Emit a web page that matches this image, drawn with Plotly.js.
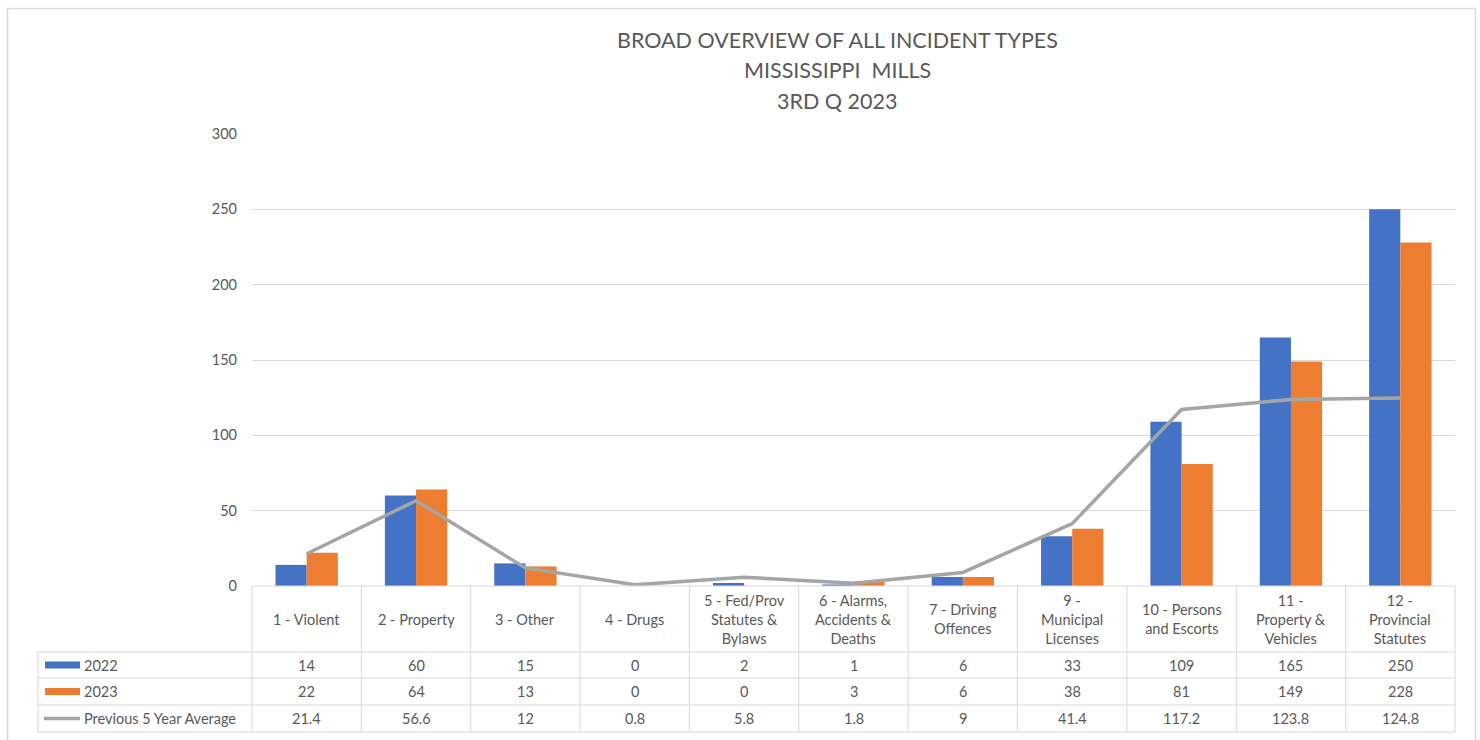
<!DOCTYPE html>
<html>
<head>
<meta charset="utf-8">
<script src="https://cdn.plot.ly/plotly-3.0.1.min.js"></script>
<style>html,body{margin:0;padding:0;background:#fff;}#chart{width:1480px;height:740px;}</style>
</head>
<body>
<div id="chart"></div>
<script>
const categories = ["1 - Violent","2 - Property","3 - Other","4 - Drugs","5 - Fed/Prov<br>Statutes &<br>Bylaws","6 - Alarms,<br>Accidents &<br>Deaths","7 - Driving<br>Offences","9 -<br>Municipal<br>Licenses","10 - Persons<br>and Escorts","11 -<br>Property &<br>Vehicles","12 -<br>Provincial<br>Statutes"];
const values2022 = [14,60,15,0,2,1,6,33,109,165,250];
const values2023 = [22,64,13,0,0,3,6,38,81,149,228];
const avg5yr = [21.4,56.6,12,0.8,5.8,1.8,9,41.4,117.2,123.8,124.8];
const seriesNames = ["2022","2023","Previous 5 Year Average"];
const yTicks = [0,50,100,150,200,250,300];
const titleLines = ["BROAD OVERVIEW OF ALL INCIDENT TYPES","MISSISSIPPI  MILLS","3RD Q 2023"];

const C1 = "#4472C4", C2 = "#ED7D31", C3 = "#A5A5A5";
const FONT = "Lato, 'Open Sans', sans-serif";
const TXT = "#595959";
const GRID = "#D9D9D9";

// pixel -> paper helpers (plot area: x 252..1455, y 134..586)
const L = 252, R = 1455, T = 134, B = 586;
const px = v => (v - L) / (R - L);
const py = v => (B - v) / (B - T);

const traces = [
  {type:"bar", name:seriesNames[0], x:categories, y:values2022, marker:{color:C1}, hoverinfo:"y"},
  {type:"bar", name:seriesNames[1], x:categories, y:values2023, marker:{color:C2}, hoverinfo:"y"},
  {type:"scatter", mode:"lines", name:seriesNames[2], x:categories, y:avg5yr, line:{color:C3, width:3.5}, hoverinfo:"y"}
];

const shapes = [];
const annotations = [];
const lineStyle = {color:GRID, width:1};
// outer border
shapes.push({type:"rect", xref:"paper", yref:"paper", x0:px(7.5), x1:px(1475.5), y0:py(8.5), y1:py(745), line:{color:"#D9D9D9", width:1.5}, fillcolor:"rgba(0,0,0,0)", layer:"below"});

// title lines
const titleY = [40, 70, 101];
titleLines.forEach((t, i) => {
  annotations.push({xref:"paper", yref:"paper", x:px(837), y:py(titleY[i]), text:t, showarrow:false,
    xanchor:"center", yanchor:"middle", font:{family:FONT, size:21.5, color:TXT}});
});

// table geometry
const rowLines = [586, 652, 678, 705, 732];
const tableLeft = 38;
const nCat = categories.length;
const colW = (R - L) / nCat;
shapes.push({type:"line", xref:"paper", yref:"paper", x0:px(L), x1:px(R), y0:py(586), y1:py(586), line:lineStyle});
for (let i = 1; i < rowLines.length; i++) {
  shapes.push({type:"line", xref:"paper", yref:"paper", x0:px(tableLeft), x1:px(R), y0:py(rowLines[i]), y1:py(rowLines[i]), line:lineStyle});
}
shapes.push({type:"line", xref:"paper", yref:"paper", x0:px(tableLeft), x1:px(tableLeft), y0:py(652), y1:py(732), line:lineStyle});
for (let i = 0; i <= nCat; i++) {
  const xx = L + i * colW;
  shapes.push({type:"line", xref:"paper", yref:"paper", x0:px(xx), x1:px(xx), y0:py(586), y1:py(732), line:lineStyle});
}
// category headers
categories.forEach((c, i) => {
  annotations.push({xref:"x", yref:"paper", x:c, y:py(619), text:c, showarrow:false, xanchor:"center", yanchor:"middle",
    font:{family:FONT, size:14.5, color:TXT}, align:"center"});
});
// value rows
const rowsData = [values2022, values2023, avg5yr];
const rowCenters = [665, 691.5, 718.5];
rowsData.forEach((arr, r) => {
  arr.forEach((v, i) => {
    annotations.push({xref:"x", yref:"paper", x:categories[i], y:py(rowCenters[r]), text:String(v), showarrow:false,
      xanchor:"center", yanchor:"middle", font:{family:FONT, size:14.5, color:TXT}});
  });
  annotations.push({xref:"paper", yref:"paper", x:px(82), y:py(rowCenters[r]), text:seriesNames[r], showarrow:false,
    xanchor:"left", yanchor:"middle", font:{family:FONT, size:14.5, color:TXT}});
});
// legend keys
shapes.push({type:"rect", xref:"paper", yref:"paper", x0:px(45), x1:px(80), y0:py(668.5), y1:py(661.5), fillcolor:C1, line:{width:0}});
shapes.push({type:"rect", xref:"paper", yref:"paper", x0:px(45), x1:px(80), y0:py(695), y1:py(688), fillcolor:C2, line:{width:0}});
shapes.push({type:"line", xref:"paper", yref:"paper", x0:px(44), x1:px(80), y0:py(718.5), y1:py(718.5), line:{color:C3, width:3.5}});

const layout = {
  width:1480, height:740,
  margin:{l:L, r:1480-R, t:T, b:740-B, pad:0},
  paper_bgcolor:"#fff", plot_bgcolor:"#fff",
  showlegend:false,
  barmode:"group", bargap:0.43, bargroupgap:0,
  xaxis:{type:"category", showticklabels:false, showgrid:false, zeroline:false, showline:false, ticks:"", fixedrange:true},
  yaxis:{range:[0,300], tickvals:yTicks, ticktext:yTicks.map(String), showgrid:true, gridcolor:GRID, gridwidth:1,
    zeroline:false, showline:false, ticks:"", ticklabelstandoff:14,
    tickfont:{family:FONT, size:14.5, color:TXT}, fixedrange:true},
  shapes:shapes,
  annotations:annotations,
  font:{family:FONT, color:TXT}
};

Plotly.newPlot("chart", traces, layout, {displayModeBar:false, staticPlot:true});
</script>
</body>
</html>
